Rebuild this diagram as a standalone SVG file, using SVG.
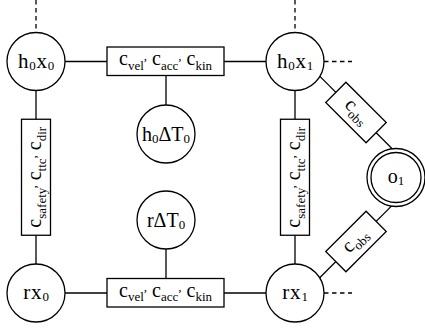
<svg xmlns="http://www.w3.org/2000/svg" width="425" height="329" viewBox="0 0 425 329">
<style>
  .n { fill: #fff; stroke: #000; stroke-width: 1.3; }
  .e { stroke: #000; stroke-width: 1.3; fill: none; }
  .d { stroke: #000; stroke-width: 1.3; fill: none; stroke-dasharray: 4.5 3.5; }
  text { font-family: "Liberation Serif", "Times New Roman", serif; font-size: 20px; fill: #000; text-anchor: middle; }
  .c { font-size: 21px; letter-spacing: 0.8px; }
  .s { font-size: 13px; }
</style>
<g id="connectors">
  <line class="d" x1="36" y1="0" x2="36" y2="32.5"/>
  <line class="d" x1="295" y1="0" x2="295" y2="32.5"/>
  <line class="d" x1="324" y1="61.5" x2="352" y2="61.5"/>
  <line class="d" x1="324" y1="293" x2="352" y2="293"/>
  <line class="e" x1="65" y1="61.5" x2="107" y2="61.5"/>
  <line class="e" x1="224" y1="61.5" x2="266" y2="61.5"/>
  <line class="e" x1="166" y1="75" x2="166" y2="105"/>
  <line class="e" x1="36" y1="90.5" x2="36" y2="119.25"/>
  <line class="e" x1="36" y1="235.25" x2="36" y2="264"/>
  <line class="e" x1="295" y1="90.5" x2="295" y2="119.25"/>
  <line class="e" x1="295" y1="235.25" x2="295" y2="264"/>
  <line class="e" x1="65" y1="293" x2="107" y2="293"/>
  <line class="e" x1="224" y1="293" x2="266" y2="293"/>
  <line class="e" x1="166" y1="249" x2="166" y2="278.5"/>
  <line class="e" x1="319.9" y1="76.4" x2="392.2" y2="148.7"/>
  <line class="e" x1="319.7" y1="277.8" x2="391.4" y2="206.1"/>
</g>
<g id="h0x0">
  <circle class="n" cx="36" cy="61.5" r="29"/>
  <text class="c" x="36.5" y="67.5">h<tspan class="s" dy="2">0</tspan><tspan dy="-2">x</tspan><tspan class="s" dy="2">0</tspan></text>
</g>
<g id="h0x1">
  <circle class="n" cx="295" cy="61.5" r="29"/>
  <text class="c" x="295.5" y="67.5">h<tspan class="s" dy="2">0</tspan><tspan dy="-2">x</tspan><tspan class="s" dy="2">1</tspan></text>
</g>
<g id="rx0">
  <circle class="n" cx="36" cy="293" r="29"/>
  <text class="c" x="36.5" y="299">rx<tspan class="s" dy="2">0</tspan></text>
</g>
<g id="rx1">
  <circle class="n" cx="295" cy="293" r="29"/>
  <text class="c" x="295.5" y="299">rx<tspan class="s" dy="2">1</tspan></text>
</g>
<g id="h0dT0">
  <circle class="n" cx="166" cy="134" r="29"/>
  <text x="166" y="140.5">h<tspan class="s" dy="2">0</tspan><tspan dy="-2">ΔT</tspan><tspan class="s" dy="2">0</tspan></text>
</g>
<g id="rdT0">
  <circle class="n" cx="166" cy="220" r="29"/>
  <text x="166" y="226.5">rΔT<tspan class="s" dy="2">0</tspan></text>
</g>
<g id="o1">
  <circle class="n" cx="396" cy="177.5" r="29"/>
  <circle class="n" cx="396" cy="177.5" r="25"/>
  <text x="396" y="183">o<tspan class="s" dy="2">1</tspan></text>
</g>
<g id="f_top">
  <rect class="n" x="107" y="47" width="117" height="28.5"/>
  <text x="165.5" y="65">c<tspan class="s" dy="4.5">vel</tspan><tspan class="s" dy="-10">,</tspan><tspan dy="5.5"> c</tspan><tspan class="s" dy="4.5">acc</tspan><tspan class="s" dy="-10">,</tspan><tspan dy="5.5"> c</tspan><tspan class="s" dy="4.5">kin</tspan></text>
</g>
<g id="f_bottom">
  <rect class="n" x="107" y="278.5" width="117" height="28.5"/>
  <text x="165.5" y="296.5">c<tspan class="s" dy="4.5">vel</tspan><tspan class="s" dy="-10">,</tspan><tspan dy="5.5"> c</tspan><tspan class="s" dy="4.5">acc</tspan><tspan class="s" dy="-10">,</tspan><tspan dy="5.5"> c</tspan><tspan class="s" dy="4.5">kin</tspan></text>
</g>
<g id="f_left">
  <rect class="n" x="21.5" y="119.25" width="29" height="116"/>
  <text transform="translate(41 177.25) rotate(-90)" x="0" y="0">c<tspan class="s" dy="4.5">safety</tspan><tspan class="s" dy="-10">,</tspan><tspan dy="5.5"> c</tspan><tspan class="s" dy="4.5">ttc</tspan><tspan class="s" dy="-10">,</tspan><tspan dy="5.5"> c</tspan><tspan class="s" dy="4.5">dir</tspan></text>
</g>
<g id="f_right">
  <rect class="n" x="280.5" y="119.25" width="29" height="116"/>
  <text transform="translate(300 177.25) rotate(-90)" x="0" y="0">c<tspan class="s" dy="4.5">safety</tspan><tspan class="s" dy="-10">,</tspan><tspan dy="5.5"> c</tspan><tspan class="s" dy="4.5">ttc</tspan><tspan class="s" dy="-10">,</tspan><tspan dy="5.5"> c</tspan><tspan class="s" dy="4.5">dir</tspan></text>
</g>
<g id="f_obs_top" transform="translate(356 112.5) rotate(45)">
  <rect class="n" x="-28.5" y="-14.25" width="57" height="28.5"/>
  <text x="0" y="4">c<tspan class="s" dy="4.5">obs</tspan></text>
</g>
<g id="f_obs_bottom" transform="translate(356 241.5) rotate(-45)">
  <rect class="n" x="-28.5" y="-14.25" width="57" height="28.5"/>
  <text x="0" y="4">c<tspan class="s" dy="4.5">obs</tspan></text>
</g>
</svg>
